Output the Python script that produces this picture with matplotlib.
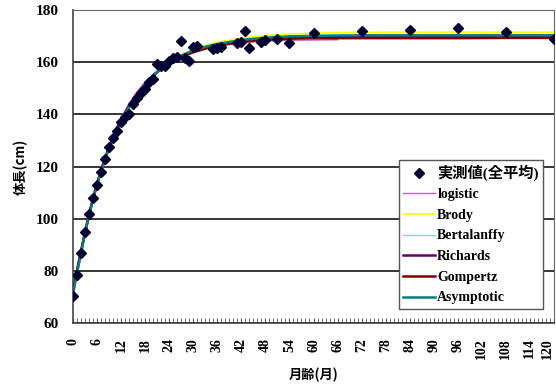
import numpy as np
import matplotlib.pyplot as plt
from matplotlib.ticker import MultipleLocator

plt.rcParams['font.family'] = ['Liberation Serif', 'Noto Sans CJK JP']
plt.rcParams['font.weight'] = 'bold'
plt.rcParams['axes.unicode_minus'] = False

# measured average height by age in months
obs_month = [0, 1, 2, 3, 4, 5, 6, 7, 8, 9, 10, 11, 12, 13, 14, 15, 16, 17, 18, 19,
             20, 21, 22, 23, 24, 25, 26, 27, 28, 29, 30, 31, 35, 36, 37, 41, 42, 43,
             44, 47, 48, 51, 54, 60, 72, 84, 96, 108, 120]
obs_height = [70.3, 78.4, 86.8, 94.8, 101.8, 107.8, 113.0, 118.0, 122.7, 127.3,
              131.1, 133.8, 136.9, 139.0, 140.3, 144.1, 146.4, 148.0, 149.9, 152.5,
              153.7, 159.4, 158.5, 158.7, 160.3, 161.7, 162.0, 168.2, 161.5, 160.6,
              166.0, 166.3, 165.2, 165.5, 166.0, 167.3, 167.8, 172.0, 165.5, 167.8,
              168.6, 168.9, 167.5, 171.3, 172.0, 172.4, 173.0, 171.7, 168.9]

# fitted growth curves (cm) at selected ages
curve_month = [0, 1, 2, 3, 4, 5, 6, 7, 8, 9, 10, 11, 12, 14, 16, 18, 20, 22, 24, 27,
               30, 33, 36, 42, 48, 54, 60, 66, 72, 84, 96, 108, 120]
logistic = [74.0, 80.5, 87.5, 94.5, 101.3, 107.6, 113.4, 118.7, 123.5, 127.9, 131.9,
            135.5, 138.7, 144.2, 148.7, 152.3, 155.3, 157.7, 159.7, 162.0, 163.8,
            165.1, 166.1, 167.4, 168.1, 168.4, 168.5, 168.6]
brody = [70.5, 79.3, 87.3, 94.6, 101.3, 107.4, 113.0, 118.1, 122.7, 126.9, 130.8,
         134.3, 137.5, 143.1, 147.8, 151.7, 155.0, 157.7, 160.0, 162.8, 164.9, 166.4,
         167.6, 169.2, 170.2, 170.8, 171.1, 171.3, 171.4, 171.5, 171.5, 171.5, 171.5]
bertalanffy = [72.0, 79.5, 87.0, 94.5, 101.5, 107.5, 113.0, 118.0, 122.6, 126.8, 130.6,
               134.0, 137.2, 142.8, 147.5, 151.5, 154.8, 157.6, 159.9, 162.5, 164.4,
               165.8, 166.9, 168.4, 169.3, 169.8, 170.1, 170.2, 170.3, 170.3, 170.3,
               170.3, 170.3]
richards = [72.5, 79.8, 87.2, 94.6, 101.5, 107.6, 113.2, 118.3, 122.9, 127.1, 130.9,
            134.3, 137.5, 143.1, 147.7, 151.6, 154.8, 157.5, 159.7, 162.2, 164.1,
            165.5, 166.6, 168.1, 169.0, 169.5, 169.7, 169.8, 169.8, 169.8, 169.8,
            169.8, 169.8]
gompertz = [73.0, 80.2, 87.6, 94.8, 101.6, 107.8, 113.5, 118.6, 123.3, 127.5, 131.3,
            134.7, 137.8, 143.3, 147.9, 151.7, 154.9, 157.5, 159.6, 162.0, 163.8,
            165.2, 166.3, 167.8, 168.6, 169.0, 169.2, 169.2, 169.2, 169.2, 169.2,
            169.3, 169.3]
asymptotic = [71.0, 79.0, 86.8, 94.3, 101.2, 107.4, 113.0, 118.1, 122.7, 126.9, 130.7,
              134.1, 137.3, 142.9, 147.6, 151.5, 154.8, 157.6, 159.9, 162.5, 164.5,
              165.9, 167.0, 168.5, 169.4, 169.9, 170.1, 170.2, 170.3, 170.3, 170.3,
              170.3, 170.3]

age_ticks = list(range(0, 121, 6))

fig = plt.figure(figsize=(5.56, 3.89), dpi=100)
ax = fig.add_axes([73 / 556, 66 / 389, 481 / 556, 313 / 389])

ax.plot(curve_month[:len(logistic)], logistic, color='#cc55cc', lw=1.0, label='logistic')
ax.plot(curve_month, brody, color='#ffff00', lw=1.2, label='Brody')
ax.plot(curve_month, bertalanffy, color='#66e0e8', lw=1.0, label='Bertalanffy')
ax.plot(curve_month, richards, color='#660066', lw=1.8, label='Richards')
ax.plot(curve_month, gompertz, color='#800000', lw=1.8, label='Gompertz')
ax.plot(curve_month, asymptotic, color='#008080', lw=1.8, label='Asymptotic')
ax.plot(obs_month, obs_height, 'D', color='#000033', ms=4.6, ls='none',
        label='実測値(全平均)', zorder=5)

ax.set_xlim(0, 120)
ax.set_ylim(60, 180)
ax.yaxis.set_major_locator(MultipleLocator(20))
ax.set_xticks(age_ticks)
ax.set_xticklabels([str(a) for a in age_ticks], rotation=90)
ax.xaxis.set_minor_locator(MultipleLocator(1))
ax.grid(axis='y', color='black', lw=1.1)
ax.set_axisbelow(True)

for side in ['top', 'right']:
    ax.spines[side].set_color('#666666')
for side in ['left', 'bottom']:
    ax.spines[side].set_color('#444444')
    ax.spines[side].set_linewidth(1.2)

ax.tick_params(axis='y', length=0, pad=10, labelsize=11)
ax.tick_params(axis='x', which='both', direction='in', length=3.5, color='#555555',
               pad=11, labelsize=10)
# last category label sits right at the figure edge
ax.get_xticklabels()[-1].set_horizontalalignment('right')

ax.set_ylabel('体長(cm)', family=['Noto Sans CJK JP', 'DejaVu Sans'], fontsize=9.5,
              fontweight='bold', labelpad=6)
ax.set_xlabel('月齢(月)', family=['Noto Sans CJK JP', 'DejaVu Sans'], fontsize=9.5,
              fontweight='bold', labelpad=6)

handles, labels = ax.get_legend_handles_labels()
order = [6, 0, 1, 2, 3, 4, 5]
leg = ax.legend([handles[i] for i in order], [labels[i] for i in order],
                loc='upper left', bbox_to_anchor=(399 / 556, 1 - 160 / 389),
                bbox_transform=fig.transFigure, frameon=True, fancybox=False,
                edgecolor='#555555', framealpha=1, borderpad=0.3, labelspacing=0.55,
                handlelength=2.3, handletextpad=0.15, borderaxespad=0,
                prop={'size': 10, 'weight': 'bold',
                      'family': ['Liberation Serif', 'Noto Sans CJK JP']})
leg.get_texts()[0].set_fontsize(11)
leg.get_frame().set_linewidth(1.0)

fig.savefig('out.png', dpi=100)
